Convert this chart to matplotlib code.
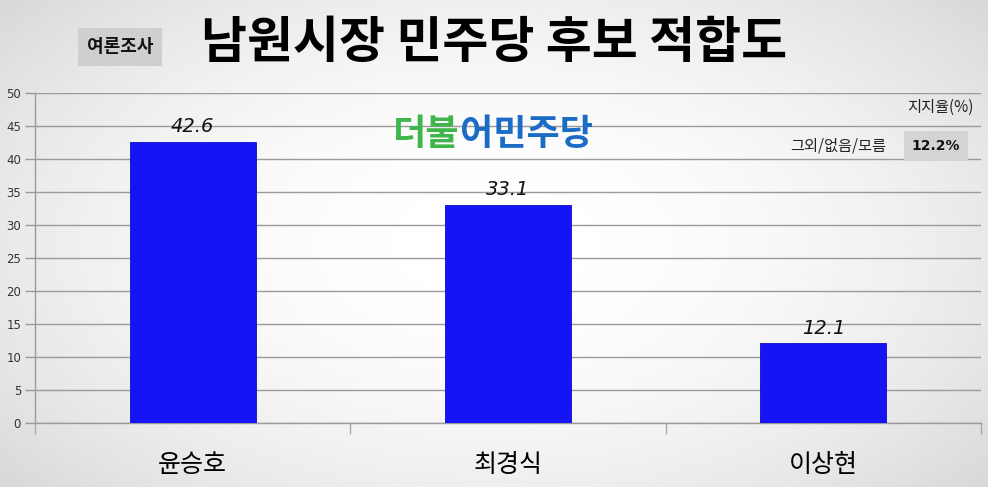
import numpy as np
import matplotlib
matplotlib.use("Agg")
import matplotlib.pyplot as plt

plt.rcParams['font.family'] = ['Noto Sans CJK KR', 'DejaVu Sans']

categories = ['윤승호', '최경식', '이상현']
values = [42.6, 33.1, 12.1]
yticks = [0, 5, 10, 15, 20, 25, 30, 35, 40, 45, 50]
title = '남원시장 민주당 후보 적합도'
tag = '여론조사'
other_label = '그외/없음/모름'
other_value = '12.2%'
unit_label = '지지율(%)'

W, H = 988, 487
fig = plt.figure(figsize=(W / 100, H / 100), dpi=100)

# background radial gradient
bg = fig.add_axes([0, 0, 1, 1], zorder=-10)
yy, xx = np.mgrid[-1:1:200j, -1:1:400j]
r2 = (xx ** 2) * 0.8 + (yy ** 2) * 0.6
img = 1.0 - 0.11 * np.clip(r2, 0, 1.6)
bg.imshow(img, cmap='gray', vmin=0, vmax=1, aspect='auto', extent=[0, 1, 0, 1])
bg.axis('off')

ax = fig.add_axes([35 / W, 1 - 423 / H, (981 - 35) / W, (423 - 93) / H])
ax.patch.set_alpha(0)
x = np.arange(len(categories))
ax.bar(x, values, width=0.4, color='#1414f4', edgecolor='#0c0cc8', linewidth=0.6, zorder=3)
ax.set_xlim(-0.5, 2.5)
ax.set_ylim(0, 50)
ax.set_yticks(yticks)
ax.set_yticklabels([str(t) for t in yticks], fontsize=8.5, color='#333333', family='DejaVu Sans')
ax.tick_params(axis='y', length=7, color='#999999', pad=3, width=1)
ax.grid(axis='y', color='#9a9a9a', linewidth=1, zorder=0)
ax.set_xticks(x)
ax.set_xticklabels(categories, fontsize=18)
ax.tick_params(axis='x', which='major', length=0, pad=21)
ax.set_xticks([-0.5, 0.5, 1.5, 2.5], minor=True)
ax.tick_params(axis='x', which='minor', length=8, color='#aaaaaa', width=1)
for s in ['top', 'right']:
    ax.spines[s].set_visible(False)
for s in ['left', 'bottom']:
    ax.spines[s].set_color('#9a9a9a')
    ax.spines[s].set_linewidth(1)

for xi, v in zip(x, values):
    ax.annotate(f'{v:.1f}', (xi, v), xytext=(0, 4), textcoords='offset points',
                ha='center', va='bottom', fontsize=14, style='italic',
                family='DejaVu Sans', color='#111111', zorder=5)

# title
fig.text(494 / W, 1 - 44 / H, title, fontsize=36, fontweight='heavy', ha='center', va='center', color='#000000')
fig.text(120 / W, 1 - 47 / H, tag, fontsize=13, fontweight='bold', ha='center', va='center', color='#111111',
         bbox=dict(boxstyle='square,pad=0.5', facecolor='#cfcfcf', edgecolor='none'))

# logo
logo_y = 1 - 134 / H
t1 = fig.text(393 / W, logo_y, '더불', fontsize=26, fontweight='heavy', color='#3fb54c', ha='left', va='center')
fig.canvas.draw()
bb = t1.get_window_extent()
fig.text(bb.x1 / W, logo_y, '어민주당', fontsize=26, fontweight='heavy', color='#1a6cc4', ha='left', va='center')

# right annotations
fig.text(974 / W, 1 - 107 / H, unit_label, fontsize=11, ha='right', va='center', color='#222222')
fig.text(886 / W, 1 - 146 / H, other_label, fontsize=11, ha='right', va='center', color='#222222')
fig.text(936 / W, 1 - 146 / H, other_value, fontsize=10, fontweight='bold', ha='center', va='center', color='#111111',
         family='DejaVu Sans',
         bbox=dict(boxstyle='square,pad=0.55', facecolor='#d4d4d4', edgecolor='none'))

fig.savefig('out.png', dpi=100)
